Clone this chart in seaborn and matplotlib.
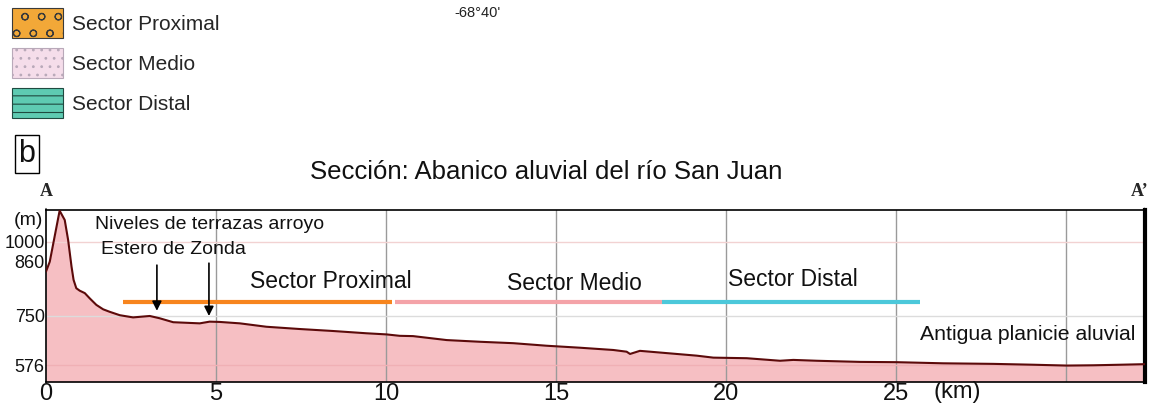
import numpy as np
import matplotlib
matplotlib.use("Agg")
import matplotlib.pyplot as plt
from matplotlib.patches import Patch
import matplotlib.transforms as mtransforms
import seaborn as sns

# Elevation profile along section A-A'
DIST_KM = [0.00, 0.11, 0.40, 0.55, 0.65, 0.75, 0.81, 0.89, 0.99, 1.14, 1.29, 1.48,
           1.68, 1.87, 2.17, 2.56, 3.05, 3.34, 3.74, 4.13, 4.52, 4.81, 5.11, 5.70,
           6.48, 7.46, 8.44, 9.42, 10.01, 10.40, 10.79, 11.78, 12.76, 13.74, 14.72,
           15.70, 16.68, 17.07, 17.17, 17.46, 18.15, 19.13, 19.62, 20.60, 21.58,
           21.97, 22.66, 23.93, 25.01, 26.38, 27.85, 29.03, 30.01, 30.79, 31.58, 32.31]
ELEV_M = [840, 860, 1217, 1152, 1012, 850, 823, 806, 801, 796, 785, 772,
          763, 758, 751, 744, 749, 741, 727, 725, 723, 729, 728, 723,
          711, 703, 696, 688, 684, 679, 678, 664, 658, 653, 644,
          637, 629, 623, 615, 626, 619, 609, 602, 600, 591,
          594, 591, 587, 586, 582, 580, 577, 574, 575, 577, 579]

# Sectors of the alluvial fan (start km, end km, label position)
SECTOR_NAMES = ["Sector Proximal", "Sector Medio", "Sector Distal"]
SECTOR_START = [2.25, 10.26, 18.10]
SECTOR_END = [10.16, 18.10, 25.70]
SECTOR_LEVEL = 778
SECTOR_LABEL_KM = [8.36, 15.54, 21.95]
SECTOR_LABEL_M = [819, 816, 823]
SECTOR_COLORS = ["#F7851E", "#F4A3A8", "#4CC8DA"]

# Terrace levels of arroyo Estero de Zonda (arrow x, tip, tail)
TERRACE_KM = [3.26, 4.79]
TERRACE_TIP_M = [760, 749]
TERRACE_TAIL_M = [853, 857]

Y_TICKS = [576, 750, 860, 1000]
X_TICKS = [0, 5, 10, 15, 20, 25]
X_GRID = [5, 10, 15, 20, 25, 30]

LEGEND_LABELS = ["Sector Proximal", "Sector Medio", "Sector Distal"]
LEGEND_FACE = ["#F2A838", "#F5DDEA", "#5ECBB2"]
LEGEND_HATCH_COLOR = ["#3A3A3A", "#B9A9B9", "#1F4A40"]
LEGEND_HATCH = ["o", "..", "--"]

sns.set_theme(style="white")
plt.rcParams["font.family"] = ["Liberation Sans", "DejaVu Sans"]
plt.rcParams["hatch.linewidth"] = 0.8

fig = plt.figure(figsize=(11.68, 4.05), dpi=100)
ax = fig.add_axes([0.0394, 0.0575, 0.9409, 0.4240])

# Vertically exaggerated, piecewise-linear elevation axis
elev_knots = np.array([517.0, 576.0, 750.0, 860.0, 1000.0, 1222.0])
height_knots = np.array([0.0, 16.7, 66.0, 120.0, 140.0, 171.7])


def fwd(v):
    return np.interp(v, elev_knots, height_knots)


def inv(h):
    return np.interp(h, height_knots, elev_knots)


ax.set_yscale("function", functions=(fwd, inv))
ax.set_ylim(elev_knots[0], elev_knots[-1])
ax.set_xlim(0, DIST_KM[-1])

# Filled profile
ax.fill_between(DIST_KM, elev_knots[0], ELEV_M, color="#F6BFC3", lw=0, zorder=1)
sns.lineplot(x=DIST_KM, y=ELEV_M, color="#5C0A0A", lw=1.5, ax=ax, zorder=3)

# Grid
ax.set_axisbelow("line")
for g in X_GRID:
    ax.axvline(g, color="#9A9A9A", lw=1.0, zorder=1.5)
ax.axhline(1000, color="#F2D2D2", lw=1.0, zorder=1.5)
ax.axhline(750, color="#DCDCDC", lw=1.0, zorder=1.5)
ax.axhline(576, color="#F0B0B5", lw=1.0, zorder=1.5)

# Sector bars and labels
for s0, s1, c in zip(SECTOR_START, SECTOR_END, SECTOR_COLORS):
    ax.plot([s0, s1], [SECTOR_LEVEL, SECTOR_LEVEL], color=c, lw=3.0,
            solid_capstyle="butt", zorder=4)
for name, xk, ym in zip(SECTOR_NAMES, SECTOR_LABEL_KM, SECTOR_LABEL_M):
    ax.text(xk, ym, name, ha="center", va="center", fontsize=16.5,
            color="#111111", zorder=5)

# Terrace arrows
for xk, tip, tail in zip(TERRACE_KM, TERRACE_TIP_M, TERRACE_TAIL_M):
    ax.annotate("", xy=(xk, tip), xytext=(xk, tail),
                arrowprops=dict(arrowstyle="-|>", color="black", lw=1.2,
                                mutation_scale=14, shrinkA=0, shrinkB=0),
                zorder=5)
ax.text(4.81, 1117, "Niveles de terrazas arroyo", ha="center", va="center",
        fontsize=14, color="#111111")
ax.text(3.74, 947, "Estero de Zonda", ha="center", va="center",
        fontsize=14, color="#111111")
ax.text(28.86, 682, "Antigua planicie aluvial", ha="center", va="center",
        fontsize=15.3, color="#111111")

# Axes styling
for side in ["top", "left", "bottom"]:
    ax.spines[side].set_color("black")
    ax.spines[side].set_linewidth(1.2)
ax.spines["right"].set_color("black")
ax.spines["right"].set_linewidth(3.0)

ax.set_xticks(X_TICKS)
ax.set_xticklabels([str(t) for t in X_TICKS], fontsize=17)
ax.set_yticks(Y_TICKS)
ax.set_yticklabels([str(t) for t in Y_TICKS], fontsize=13)
ax.tick_params(axis="both", length=0, pad=1, colors="#111111")
ax.set_xlabel("")
ax.set_ylabel("")

blend_y = mtransforms.blended_transform_factory(ax.transAxes, ax.transData)
ax.text(-0.003, 1147, "(m)", transform=blend_y, ha="right", va="center",
        fontsize=14, color="#111111")
blend_x = mtransforms.blended_transform_factory(ax.transData, ax.transAxes)
ax.text(26.78, -0.062, "(km)", transform=blend_x, ha="center", va="center",
        fontsize=17, color="#111111")

# Section end markers A and A'
ax.annotate("A", xy=(0, 1), xycoords="axes fraction", xytext=(0, 1.11),
            textcoords="axes fraction", ha="center", va="center",
            fontsize=13, fontweight="bold", family="Liberation Serif",
            arrowprops=dict(arrowstyle="-", color="black", lw=0.8,
                            shrinkA=4, shrinkB=0))
ax.annotate("A\u2019", xy=(1, 1), xycoords="axes fraction", xytext=(0.995, 1.11),
            textcoords="axes fraction", ha="center", va="center",
            fontsize=13, fontweight="bold", family="Liberation Serif",
            arrowprops=dict(arrowstyle="-", color="black", lw=0.8,
                            shrinkA=4, shrinkB=0))

# Title, panel letter and coordinate label
fig.text(0.4675, 0.576, "Secci\u00f3n: Abanico aluvial del r\u00edo San Juan",
         ha="center", va="center", fontsize=18.5, color="#111111")
fig.text(0.023, 0.620, "b", ha="center", va="center", fontsize=22,
         color="#111111",
         bbox=dict(boxstyle="square,pad=0.12", fc="white", ec="black", lw=1.0))
fig.text(0.4088, 0.967, "-68\u00b040'", ha="center", va="center",
         fontsize=10.5, color="#222222")

# Legend of fan sectors
handles = [Patch(facecolor=fc, edgecolor=hc, hatch=h, linewidth=0.8, label=lab)
           for fc, hc, h, lab in zip(LEGEND_FACE, LEGEND_HATCH_COLOR,
                                     LEGEND_HATCH, LEGEND_LABELS)]
fig.legend(handles=handles, loc="upper left", bbox_to_anchor=(0.0034, 1.0),
           frameon=False, fontsize=15, handlelength=2.45, handleheight=1.84,
           labelspacing=0.48, handletextpad=0.42, borderaxespad=0.0,
           borderpad=0.4)

fig.savefig("out.png", dpi=100, facecolor="white")
